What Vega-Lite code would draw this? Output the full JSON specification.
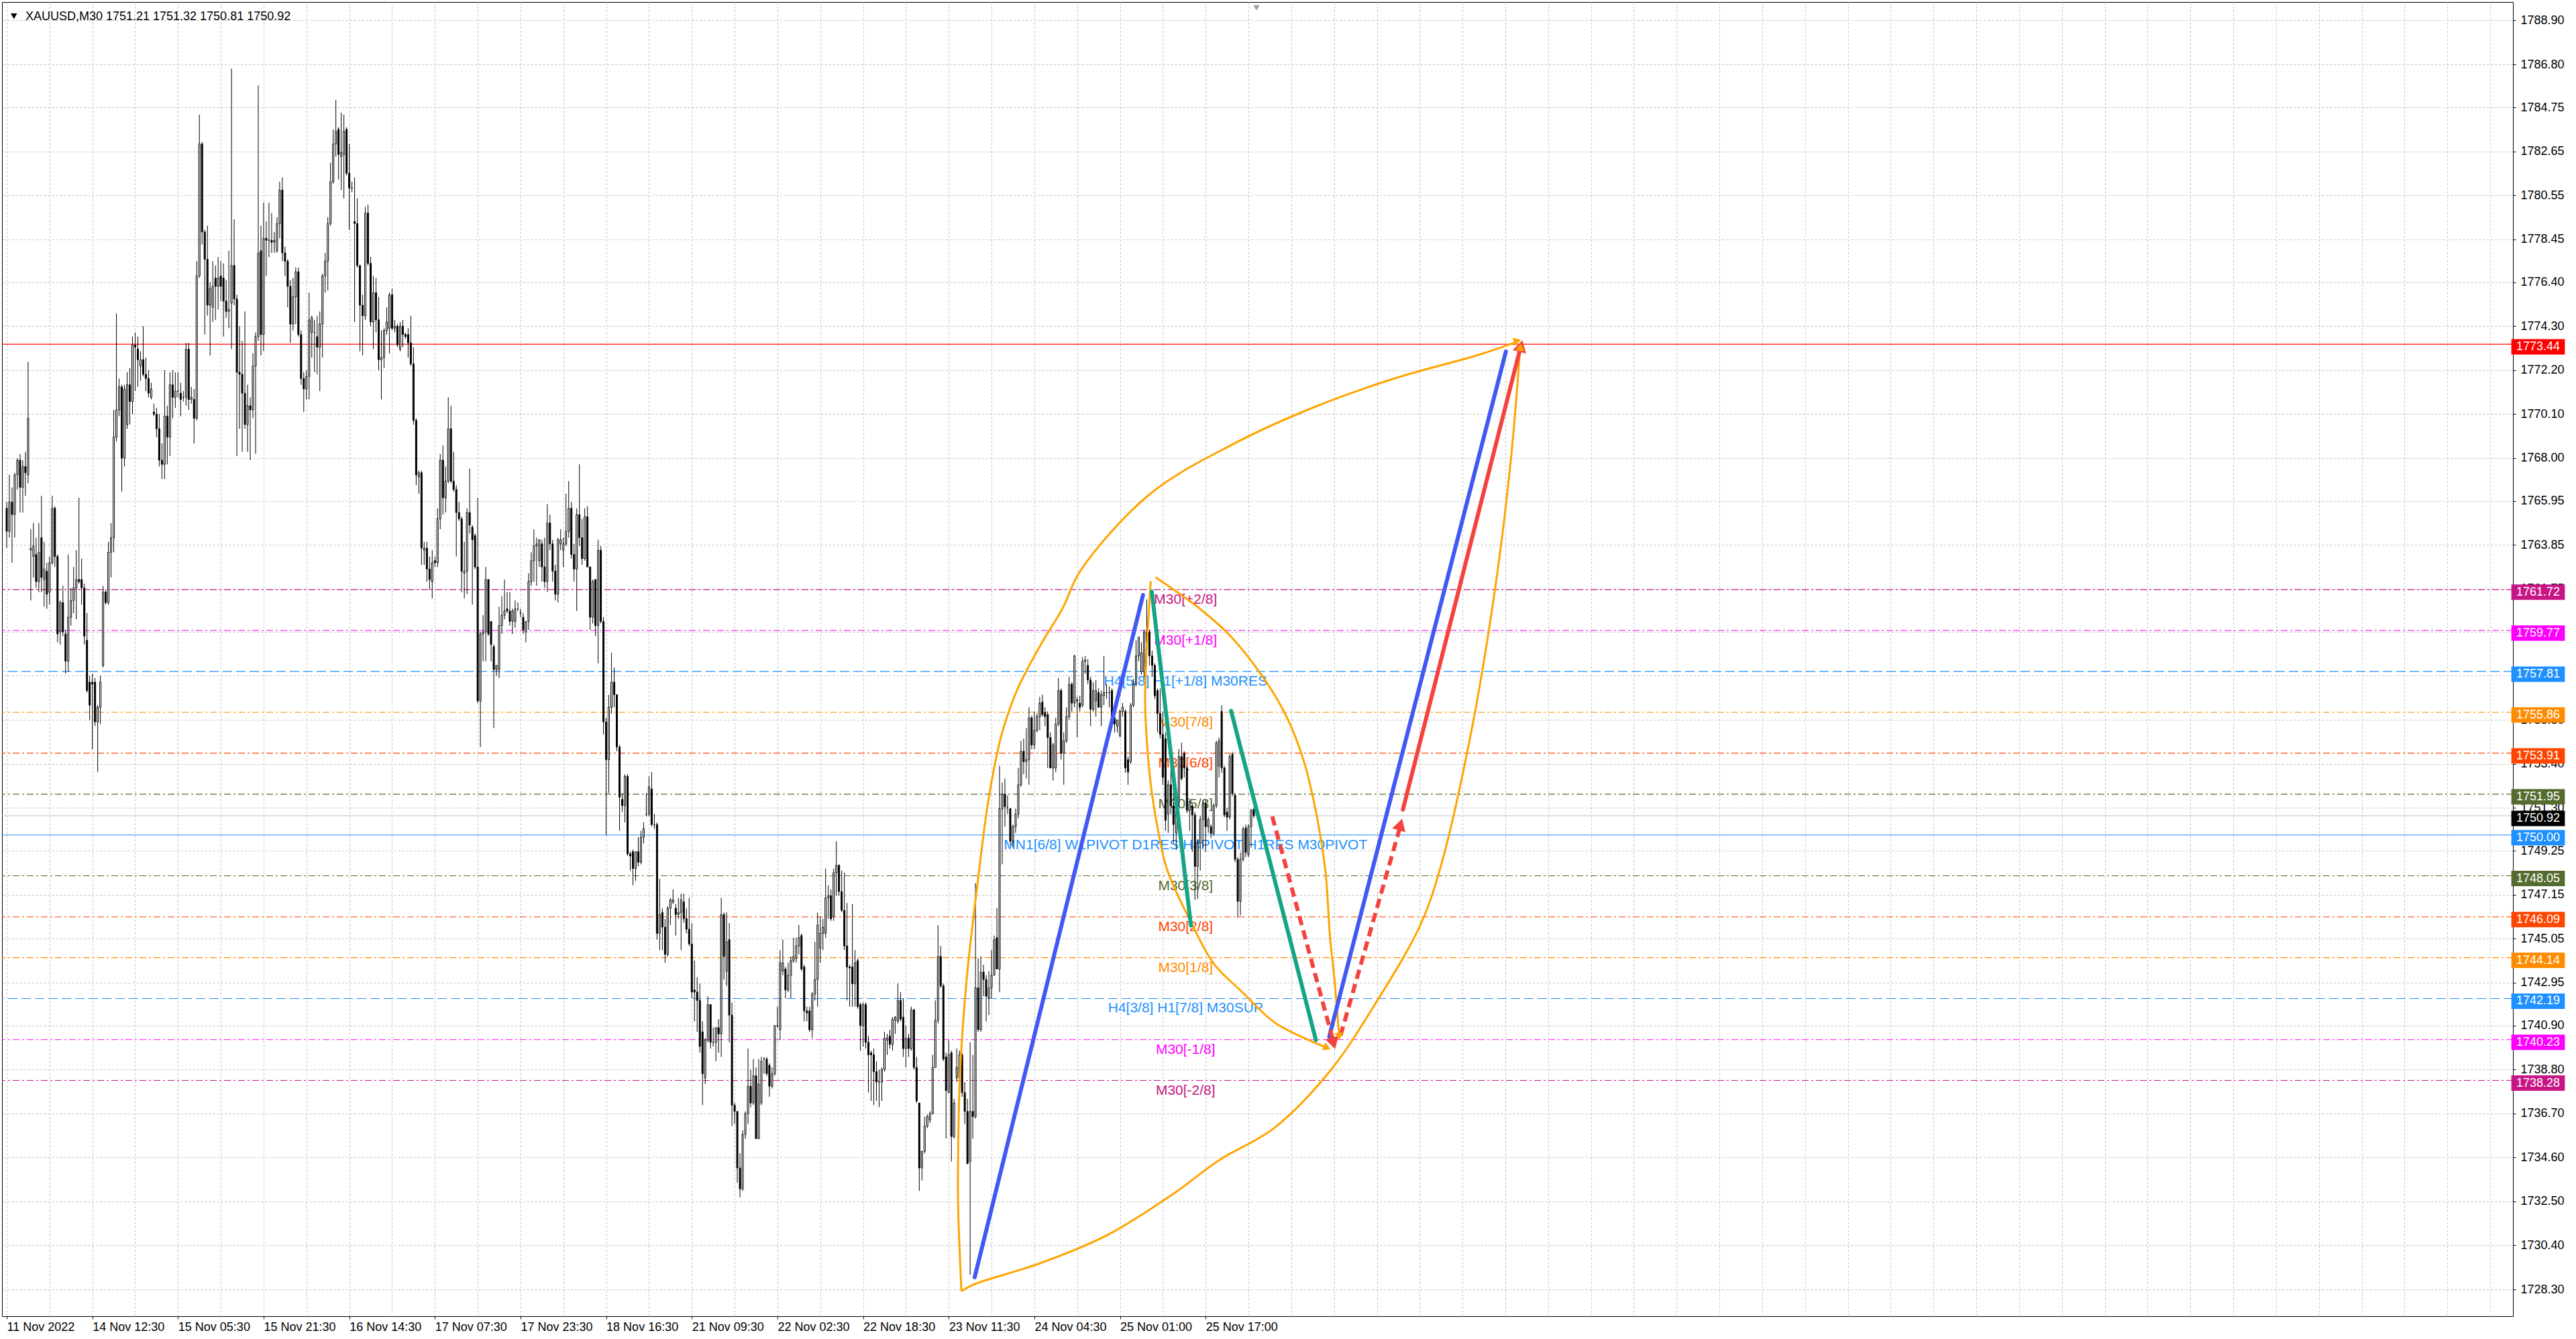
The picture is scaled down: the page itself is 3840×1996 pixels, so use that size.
{
"$schema":"https://vega.github.io/schema/vega-lite/v6.json",
"width":3743,"height":1959,
"autosize":{"type":"none"},
"padding":{"left":3,"top":3,"right":94,"bottom":34},
"background":"white",
"config":{"view":{"stroke":"#000000","strokeWidth":1}},
"datasets":{
"candles":[
{"i":1,"o":1765.6,"h":1765.9,"l":1763.7,"c":1764.5},{"i":2,"o":1764.5,"h":1767.2,"l":1764.2,"c":1765.9},{"i":3,"o":1765.9,"h":1766.6,"l":1763.0,"c":1765.3},{"i":4,"o":1765.3,"h":1767.3,"l":1764.2,"c":1767.2},{"i":5,"o":1767.2,"h":1768.0,"l":1766.5,"c":1767.9},{"i":6,"o":1767.9,"h":1768.2,"l":1765.4,"c":1766.6},{"i":7,"o":1766.6,"h":1767.9,"l":1765.4,"c":1767.6},{"i":8,"o":1767.6,"h":1768.3,"l":1766.2,"c":1767.3},{"i":9,"o":1767.2,"h":1772.6,"l":1766.8,"c":1769.9},{"i":10,"o":1763.6,"h":1764.6,"l":1761.2,"c":1763.7},
{"i":11,"o":1763.3,"h":1764.9,"l":1762.3,"c":1763.8},{"i":12,"o":1763.4,"h":1764.2,"l":1761.8,"c":1762.1},{"i":13,"o":1762.1,"h":1764.9,"l":1761.6,"c":1763.5},{"i":14,"o":1764.2,"h":1766.2,"l":1761.6,"c":1762.3},{"i":15,"o":1762.2,"h":1764.0,"l":1760.9,"c":1762.7},{"i":16,"o":1762.6,"h":1763.0,"l":1760.8,"c":1761.5},{"i":17,"o":1761.6,"h":1763.3,"l":1761.0,"c":1763.0},{"i":18,"o":1763.0,"h":1766.2,"l":1762.9,"c":1765.6},{"i":19,"o":1765.6,"h":1765.7,"l":1762.8,"c":1763.3},{"i":20,"o":1763.3,"h":1763.4,"l":1759.2,"c":1759.6},
{"i":21,"o":1759.7,"h":1761.2,"l":1759.1,"c":1761.1},{"i":22,"o":1761.1,"h":1761.9,"l":1759.5,"c":1759.7},{"i":23,"o":1759.6,"h":1759.8,"l":1757.7,"c":1758.3},{"i":24,"o":1758.3,"h":1763.4,"l":1757.8,"c":1760.4},{"i":25,"o":1760.4,"h":1761.8,"l":1760.0,"c":1761.2},{"i":26,"o":1761.2,"h":1762.8,"l":1760.6,"c":1761.8},{"i":27,"o":1761.8,"h":1763.6,"l":1760.3,"c":1762.2},{"i":28,"o":1762.2,"h":1766.1,"l":1762.0,"c":1762.1},{"i":29,"o":1762.2,"h":1763.2,"l":1761.0,"c":1761.8},{"i":30,"o":1761.8,"h":1762.0,"l":1759.1,"c":1759.5},
{"i":31,"o":1759.3,"h":1760.6,"l":1756.8,"c":1756.9},{"i":32,"o":1757.3,"h":1757.6,"l":1755.5,"c":1756.2},{"i":33,"o":1757.3,"h":1757.7,"l":1754.1,"c":1757.2},{"i":34,"o":1757.3,"h":1757.5,"l":1755.2,"c":1755.4},{"i":35,"o":1755.4,"h":1756.2,"l":1753.0,"c":1756.1},{"i":36,"o":1756.1,"h":1757.6,"l":1755.3,"c":1757.3},{"i":37,"o":1758.1,"h":1761.9,"l":1758.0,"c":1761.6},{"i":38,"o":1761.6,"h":1761.7,"l":1761.0,"c":1761.1},{"i":39,"o":1761.1,"h":1764.0,"l":1761.0,"c":1763.5},{"i":40,"o":1763.5,"h":1764.9,"l":1762.3,"c":1764.2},
{"i":41,"o":1764.2,"h":1770.3,"l":1763.5,"c":1769.0},{"i":42,"o":1769.0,"h":1774.9,"l":1768.8,"c":1770.3},{"i":43,"o":1770.3,"h":1771.8,"l":1770.0,"c":1771.4},{"i":44,"o":1771.4,"h":1771.5,"l":1766.4,"c":1768.0},{"i":45,"o":1768.0,"h":1771.5,"l":1767.6,"c":1771.3},{"i":46,"o":1769.6,"h":1772.1,"l":1769.4,"c":1771.5},{"i":47,"o":1771.5,"h":1772.3,"l":1769.6,"c":1770.7},{"i":48,"o":1770.7,"h":1773.8,"l":1770.1,"c":1773.4},{"i":49,"o":1773.4,"h":1774.0,"l":1771.2,"c":1773.3},{"i":50,"o":1773.2,"h":1773.8,"l":1771.4,"c":1772.7},
{"i":51,"o":1772.4,"h":1773.1,"l":1771.7,"c":1772.7},{"i":52,"o":1772.7,"h":1774.3,"l":1771.9,"c":1772.0},{"i":53,"o":1772.0,"h":1772.8,"l":1771.2,"c":1771.8},{"i":54,"o":1771.8,"h":1772.2,"l":1770.9,"c":1771.1},{"i":55,"o":1770.9,"h":1771.6,"l":1770.8,"c":1771.3},{"i":56,"o":1770.2,"h":1770.6,"l":1770.0,"c":1770.1},{"i":57,"o":1770.1,"h":1770.4,"l":1769.0,"c":1769.4},{"i":58,"o":1769.4,"h":1770.1,"l":1767.6,"c":1767.9},{"i":59,"o":1767.9,"h":1768.7,"l":1767.0,"c":1767.7},{"i":60,"o":1767.7,"h":1772.2,"l":1767.0,"c":1770.0},
{"i":61,"o":1770.0,"h":1770.5,"l":1767.7,"c":1769.0},{"i":62,"o":1769.0,"h":1772.1,"l":1768.1,"c":1771.5},{"i":63,"o":1771.5,"h":1772.2,"l":1769.9,"c":1770.9},{"i":64,"o":1770.9,"h":1772.1,"l":1770.4,"c":1771.2},{"i":65,"o":1771.2,"h":1772.1,"l":1770.9,"c":1771.2},{"i":66,"o":1771.1,"h":1771.6,"l":1770.0,"c":1770.8},{"i":67,"o":1770.9,"h":1771.2,"l":1770.7,"c":1770.9},{"i":68,"o":1770.9,"h":1773.5,"l":1770.5,"c":1773.2},{"i":69,"o":1773.2,"h":1773.5,"l":1770.3,"c":1770.8},{"i":70,"o":1770.8,"h":1771.4,"l":1770.6,"c":1770.9},
{"i":71,"o":1770.8,"h":1771.3,"l":1768.7,"c":1769.9},{"i":72,"o":1769.9,"h":1777.4,"l":1769.8,"c":1776.7},{"i":73,"o":1776.7,"h":1784.4,"l":1776.6,"c":1783.0},{"i":74,"o":1783.0,"h":1783.1,"l":1778.2,"c":1778.8},{"i":75,"o":1778.8,"h":1778.9,"l":1773.9,"c":1777.5},{"i":76,"o":1777.5,"h":1779.1,"l":1774.8,"c":1775.3},{"i":77,"o":1775.3,"h":1776.4,"l":1772.9,"c":1776.1},{"i":78,"o":1775.2,"h":1777.4,"l":1774.5,"c":1776.2},{"i":79,"o":1776.6,"h":1777.2,"l":1774.6,"c":1776.2},{"i":80,"o":1776.2,"h":1777.6,"l":1775.1,"c":1776.6},
{"i":81,"o":1776.7,"h":1777.4,"l":1775.5,"c":1776.2},{"i":82,"o":1776.6,"h":1777.3,"l":1773.8,"c":1775.5},{"i":83,"o":1775.5,"h":1776.5,"l":1774.7,"c":1775.0},{"i":84,"o":1775.0,"h":1777.9,"l":1774.2,"c":1775.1},{"i":85,"o":1775.4,"h":1786.6,"l":1773.2,"c":1777.2},{"i":86,"o":1777.2,"h":1779.4,"l":1775.3,"c":1775.6},{"i":87,"o":1775.6,"h":1775.8,"l":1768.1,"c":1772.1},{"i":88,"o":1772.1,"h":1774.3,"l":1769.4,"c":1772.0},{"i":89,"o":1772.0,"h":1773.6,"l":1768.3,"c":1771.1},{"i":90,"o":1771.1,"h":1775.0,"l":1769.4,"c":1769.6},
{"i":91,"o":1769.6,"h":1771.5,"l":1768.3,"c":1770.5},{"i":92,"o":1770.5,"h":1770.9,"l":1767.9,"c":1770.3},{"i":93,"o":1770.3,"h":1773.0,"l":1769.9,"c":1772.4},{"i":94,"o":1772.4,"h":1774.0,"l":1768.2,"c":1773.8},{"i":95,"o":1773.8,"h":1785.8,"l":1773.6,"c":1777.8},{"i":96,"o":1777.9,"h":1779.1,"l":1772.9,"c":1773.9},{"i":97,"o":1773.9,"h":1780.2,"l":1773.1,"c":1778.5},{"i":98,"o":1778.5,"h":1779.3,"l":1776.7,"c":1778.4},{"i":99,"o":1778.4,"h":1780.2,"l":1777.6,"c":1778.4},{"i":100,"o":1778.4,"h":1779.7,"l":1777.8,"c":1778.3},
{"i":101,"o":1778.3,"h":1778.8,"l":1777.8,"c":1778.4},{"i":102,"o":1777.9,"h":1779.5,"l":1777.8,"c":1779.2},{"i":103,"o":1779.2,"h":1781.2,"l":1778.5,"c":1780.8},{"i":104,"o":1780.8,"h":1781.4,"l":1777.4,"c":1777.8},{"i":105,"o":1777.8,"h":1778.1,"l":1776.7,"c":1777.4},{"i":106,"o":1777.4,"h":1777.5,"l":1775.2,"c":1776.2},{"i":107,"o":1776.2,"h":1776.5,"l":1773.5,"c":1774.4},{"i":108,"o":1774.4,"h":1776.6,"l":1774.1,"c":1775.7},{"i":109,"o":1775.7,"h":1777.1,"l":1774.4,"c":1776.9},{"i":110,"o":1776.9,"h":1777.1,"l":1773.8,"c":1773.9},
{"i":111,"o":1773.9,"h":1774.1,"l":1771.5,"c":1771.8},{"i":112,"o":1771.8,"h":1772.1,"l":1770.2,"c":1771.3},{"i":113,"o":1771.3,"h":1772.2,"l":1770.8,"c":1771.9},{"i":114,"o":1771.9,"h":1775.9,"l":1770.8,"c":1774.6},{"i":115,"o":1774.0,"h":1774.8,"l":1772.8,"c":1774.7},{"i":116,"o":1774.0,"h":1774.6,"l":1772.1,"c":1774.0},{"i":117,"o":1773.8,"h":1774.8,"l":1772.0,"c":1773.3},{"i":118,"o":1773.3,"h":1775.0,"l":1771.2,"c":1774.4},{"i":119,"o":1774.4,"h":1776.8,"l":1772.8,"c":1776.7},{"i":120,"o":1776.7,"h":1777.8,"l":1775.9,"c":1777.4},
{"i":121,"o":1777.4,"h":1779.5,"l":1776.0,"c":1779.2},{"i":122,"o":1779.2,"h":1782.1,"l":1779.1,"c":1781.2},{"i":123,"o":1781.2,"h":1783.7,"l":1781.1,"c":1783.0},{"i":124,"o":1783.0,"h":1785.1,"l":1782.4,"c":1783.6},{"i":125,"o":1783.7,"h":1783.8,"l":1781.3,"c":1782.5},{"i":126,"o":1782.4,"h":1784.5,"l":1780.8,"c":1782.6},{"i":127,"o":1782.5,"h":1784.4,"l":1780.4,"c":1783.6},{"i":128,"o":1783.7,"h":1783.8,"l":1781.5,"c":1781.6},{"i":129,"o":1781.6,"h":1783.0,"l":1778.9,"c":1780.9},{"i":130,"o":1780.9,"h":1781.2,"l":1780.7,"c":1780.9},
{"i":131,"o":1779.3,"h":1781.4,"l":1774.5,"c":1779.2},{"i":132,"o":1779.2,"h":1780.4,"l":1777.1,"c":1777.2},{"i":133,"o":1777.2,"h":1777.2,"l":1773.1,"c":1775.3},{"i":134,"o":1775.3,"h":1775.8,"l":1772.9,"c":1774.8},{"i":135,"o":1774.8,"h":1780.0,"l":1774.6,"c":1779.7},{"i":136,"o":1779.7,"h":1780.1,"l":1777.2,"c":1777.3},{"i":137,"o":1777.3,"h":1777.6,"l":1774.3,"c":1774.5},{"i":138,"o":1774.5,"h":1776.7,"l":1773.2,"c":1775.9},{"i":139,"o":1775.9,"h":1776.6,"l":1774.0,"c":1774.6},{"i":140,"o":1774.6,"h":1775.7,"l":1772.2,"c":1772.7},
{"i":141,"o":1772.7,"h":1774.1,"l":1770.8,"c":1772.8},{"i":142,"o":1772.8,"h":1774.2,"l":1772.3,"c":1774.1},{"i":143,"o":1774.1,"h":1775.2,"l":1773.9,"c":1774.5},{"i":144,"o":1774.2,"h":1775.9,"l":1773.0,"c":1775.8},{"i":145,"o":1775.8,"h":1776.1,"l":1774.1,"c":1774.2},{"i":146,"o":1774.2,"h":1774.6,"l":1774.0,"c":1774.3},{"i":147,"o":1774.3,"h":1774.4,"l":1773.3,"c":1773.4},{"i":148,"o":1773.2,"h":1774.5,"l":1773.1,"c":1774.3},{"i":149,"o":1774.3,"h":1774.6,"l":1773.3,"c":1773.9},{"i":150,"o":1773.9,"h":1774.0,"l":1773.7,"c":1773.8},
{"i":151,"o":1773.9,"h":1774.2,"l":1772.8,"c":1773.5},{"i":152,"o":1773.5,"h":1774.8,"l":1772.4,"c":1772.5},{"i":153,"o":1772.5,"h":1773.3,"l":1769.6,"c":1769.8},{"i":154,"o":1769.8,"h":1769.9,"l":1766.7,"c":1767.2},{"i":155,"o":1767.1,"h":1767.4,"l":1766.3,"c":1767.3},{"i":156,"o":1767.3,"h":1767.4,"l":1762.9,"c":1763.7},{"i":157,"o":1763.6,"h":1764.0,"l":1762.9,"c":1763.7},{"i":158,"o":1763.7,"h":1764.0,"l":1762.1,"c":1762.7},{"i":159,"o":1762.7,"h":1763.3,"l":1761.7,"c":1762.2},{"i":160,"o":1762.1,"h":1763.6,"l":1761.3,"c":1763.0},
{"i":161,"o":1763.1,"h":1763.3,"l":1762.8,"c":1763.0},{"i":162,"o":1763.0,"h":1765.6,"l":1762.8,"c":1765.1},{"i":163,"o":1765.1,"h":1768.2,"l":1764.6,"c":1767.9},{"i":164,"o":1767.9,"h":1768.6,"l":1765.3,"c":1766.1},{"i":165,"o":1766.1,"h":1767.6,"l":1765.4,"c":1766.9},{"i":166,"o":1766.9,"h":1770.9,"l":1766.8,"c":1769.4},{"i":167,"o":1769.4,"h":1770.5,"l":1766.8,"c":1766.9},{"i":168,"o":1766.9,"h":1768.3,"l":1766.4,"c":1766.5},{"i":169,"o":1766.5,"h":1766.7,"l":1763.3,"c":1765.4},{"i":170,"o":1765.4,"h":1765.9,"l":1765.0,"c":1765.1},
{"i":171,"o":1765.1,"h":1765.2,"l":1761.6,"c":1762.6},{"i":172,"o":1762.5,"h":1764.0,"l":1761.3,"c":1762.6},{"i":173,"o":1762.6,"h":1765.6,"l":1761.5,"c":1765.4},{"i":174,"o":1765.4,"h":1767.5,"l":1764.4,"c":1764.8},{"i":175,"o":1764.7,"h":1764.8,"l":1761.0,"c":1764.1},{"i":176,"o":1764.3,"h":1764.4,"l":1762.7,"c":1762.8},{"i":177,"o":1762.8,"h":1766.1,"l":1756.3,"c":1756.4},{"i":178,"o":1756.4,"h":1759.7,"l":1754.2,"c":1759.6},{"i":179,"o":1759.6,"h":1760.5,"l":1758.3,"c":1759.7},{"i":180,"o":1759.7,"h":1762.8,"l":1758.3,"c":1762.2},
{"i":181,"o":1762.2,"h":1762.2,"l":1759.5,"c":1759.6},{"i":182,"o":1760.2,"h":1760.2,"l":1758.3,"c":1759.1},{"i":183,"o":1759.0,"h":1759.1,"l":1755.1,"c":1757.9},{"i":184,"o":1757.9,"h":1758.1,"l":1757.6,"c":1758.1},{"i":185,"o":1757.9,"h":1760.9,"l":1757.5,"c":1760.0},{"i":186,"o":1760.0,"h":1761.4,"l":1759.6,"c":1760.5},{"i":187,"o":1760.5,"h":1762.2,"l":1760.3,"c":1760.7},{"i":188,"o":1760.8,"h":1761.6,"l":1760.6,"c":1760.7},{"i":189,"o":1760.7,"h":1761.6,"l":1760.0,"c":1760.2},{"i":190,"o":1760.2,"h":1760.8,"l":1759.6,"c":1760.7},
{"i":191,"o":1760.2,"h":1761.2,"l":1759.9,"c":1760.8},{"i":192,"o":1760.8,"h":1761.1,"l":1760.7,"c":1760.8},{"i":193,"o":1760.6,"h":1760.8,"l":1760.4,"c":1760.6},{"i":194,"o":1760.4,"h":1760.6,"l":1759.6,"c":1759.8},{"i":195,"o":1759.7,"h":1760.2,"l":1759.2,"c":1760.2},{"i":196,"o":1760.2,"h":1762.5,"l":1759.8,"c":1762.1},{"i":197,"o":1762.1,"h":1763.5,"l":1761.9,"c":1763.1},{"i":198,"o":1763.1,"h":1764.6,"l":1762.1,"c":1763.8},{"i":199,"o":1763.8,"h":1764.2,"l":1761.9,"c":1763.9},{"i":200,"o":1763.1,"h":1764.1,"l":1762.8,"c":1764.1},
{"i":201,"o":1763.9,"h":1764.1,"l":1762.1,"c":1762.8},{"i":202,"o":1762.8,"h":1764.2,"l":1761.8,"c":1762.1},{"i":203,"o":1762.1,"h":1765.8,"l":1761.6,"c":1764.9},{"i":204,"o":1764.9,"h":1765.3,"l":1763.6,"c":1763.9},{"i":205,"o":1763.9,"h":1764.1,"l":1762.1,"c":1762.6},{"i":206,"o":1762.6,"h":1762.9,"l":1761.2,"c":1761.5},{"i":207,"o":1761.5,"h":1764.2,"l":1761.1,"c":1764.1},{"i":208,"o":1763.9,"h":1764.6,"l":1763.6,"c":1764.1},{"i":209,"o":1763.6,"h":1764.2,"l":1762.8,"c":1763.9},{"i":210,"o":1763.9,"h":1766.3,"l":1763.8,"c":1764.5},
{"i":211,"o":1764.5,"h":1766.9,"l":1764.2,"c":1765.6},{"i":212,"o":1765.6,"h":1765.9,"l":1763.2,"c":1763.4},{"i":213,"o":1763.4,"h":1763.9,"l":1762.1,"c":1762.7},{"i":214,"o":1762.7,"h":1765.6,"l":1760.7,"c":1765.3},{"i":215,"o":1765.3,"h":1767.7,"l":1763.8,"c":1764.2},{"i":216,"o":1764.2,"h":1765.1,"l":1762.9,"c":1763.2},{"i":217,"o":1763.2,"h":1765.6,"l":1763.1,"c":1765.2},{"i":218,"o":1765.2,"h":1765.7,"l":1762.8,"c":1762.8},{"i":219,"o":1762.8,"h":1762.8,"l":1759.8,"c":1760.4},{"i":220,"o":1760.4,"h":1762.2,"l":1760.1,"c":1762.1},
{"i":221,"o":1762.2,"h":1762.2,"l":1759.5,"c":1760.0},{"i":222,"o":1760.0,"h":1764.1,"l":1758.2,"c":1763.6},{"i":223,"o":1763.6,"h":1763.8,"l":1760.1,"c":1760.2},{"i":224,"o":1760.2,"h":1760.4,"l":1754.8,"c":1755.4},{"i":225,"o":1755.4,"h":1755.6,"l":1750.0,"c":1753.6},{"i":226,"o":1753.6,"h":1756.7,"l":1752.0,"c":1756.1},{"i":227,"o":1756.1,"h":1758.7,"l":1755.8,"c":1757.3},{"i":228,"o":1757.3,"h":1758.0,"l":1756.1,"c":1756.7},{"i":229,"o":1756.7,"h":1756.7,"l":1754.0,"c":1754.2},{"i":230,"o":1754.2,"h":1754.3,"l":1750.2,"c":1751.8},
{"i":231,"o":1751.7,"h":1752.0,"l":1751.1,"c":1751.4},{"i":232,"o":1751.4,"h":1752.9,"l":1750.6,"c":1752.8},{"i":233,"o":1752.8,"h":1752.9,"l":1749.0,"c":1749.1},{"i":234,"o":1749.1,"h":1749.2,"l":1748.3,"c":1749.0},{"i":235,"o":1749.2,"h":1749.3,"l":1747.6,"c":1748.4},{"i":236,"o":1748.4,"h":1749.2,"l":1747.8,"c":1749.2},{"i":237,"o":1749.2,"h":1749.9,"l":1748.5,"c":1748.7},{"i":238,"o":1748.7,"h":1750.2,"l":1748.6,"c":1749.9},{"i":239,"o":1749.9,"h":1750.6,"l":1749.6,"c":1750.3},{"i":240,"o":1751.0,"h":1752.0,"l":1750.9,"c":1751.0},
{"i":241,"o":1751.0,"h":1752.8,"l":1750.9,"c":1752.3},{"i":242,"o":1752.2,"h":1753.0,"l":1750.4,"c":1750.5},{"i":243,"o":1750.5,"h":1751.0,"l":1750.3,"c":1750.5},{"i":244,"o":1750.5,"h":1750.6,"l":1745.0,"c":1745.3},{"i":245,"o":1745.3,"h":1747.9,"l":1744.5,"c":1746.2},{"i":246,"o":1746.3,"h":1746.5,"l":1744.5,"c":1745.6},{"i":247,"o":1745.6,"h":1746.0,"l":1743.9,"c":1744.3},{"i":248,"o":1744.3,"h":1746.6,"l":1744.2,"c":1746.5},{"i":249,"o":1746.5,"h":1747.0,"l":1745.7,"c":1746.9},{"i":250,"o":1746.8,"h":1747.4,"l":1746.7,"c":1746.9},
{"i":251,"o":1746.5,"h":1746.7,"l":1745.2,"c":1746.2},{"i":252,"o":1746.2,"h":1747.0,"l":1746.0,"c":1746.3},{"i":253,"o":1746.3,"h":1747.2,"l":1744.5,"c":1746.9},{"i":254,"o":1746.8,"h":1747.2,"l":1745.8,"c":1746.0},{"i":255,"o":1746.0,"h":1746.5,"l":1745.3,"c":1745.5},{"i":256,"o":1745.5,"h":1747.0,"l":1744.7,"c":1744.8},{"i":257,"o":1744.8,"h":1745.8,"l":1742.2,"c":1742.5},{"i":258,"o":1742.6,"h":1744.0,"l":1741.1,"c":1742.5},{"i":259,"o":1742.5,"h":1743.2,"l":1740.6,"c":1742.1},{"i":260,"o":1742.1,"h":1742.9,"l":1739.6,"c":1739.9},
{"i":261,"o":1740.6,"h":1741.1,"l":1737.1,"c":1738.6},{"i":262,"o":1738.4,"h":1740.3,"l":1738.1,"c":1740.2},{"i":263,"o":1740.2,"h":1742.3,"l":1740.1,"c":1741.9},{"i":264,"o":1741.9,"h":1741.9,"l":1739.8,"c":1740.1},{"i":265,"o":1740.1,"h":1740.8,"l":1739.9,"c":1740.1},{"i":266,"o":1740.1,"h":1740.8,"l":1739.2,"c":1740.8},{"i":267,"o":1740.8,"h":1741.2,"l":1739.6,"c":1740.5},{"i":268,"o":1740.5,"h":1747.0,"l":1739.4,"c":1746.2},{"i":269,"o":1746.2,"h":1746.3,"l":1743.1,"c":1744.2},{"i":270,"o":1743.5,"h":1746.3,"l":1742.8,"c":1744.9},
{"i":271,"o":1745.0,"h":1745.8,"l":1740.1,"c":1741.4},{"i":272,"o":1741.4,"h":1742.0,"l":1736.1,"c":1737.1},{"i":273,"o":1737.1,"h":1737.2,"l":1736.2,"c":1736.8},{"i":274,"o":1736.8,"h":1736.8,"l":1733.4,"c":1734.1},{"i":275,"o":1734.1,"h":1734.8,"l":1732.7,"c":1733.1},{"i":276,"o":1733.1,"h":1735.9,"l":1733.0,"c":1735.7},{"i":277,"o":1735.7,"h":1736.8,"l":1735.5,"c":1736.7},{"i":278,"o":1736.7,"h":1739.8,"l":1736.2,"c":1738.0},{"i":279,"o":1738.0,"h":1738.8,"l":1737.0,"c":1737.2},{"i":280,"o":1737.2,"h":1739.3,"l":1737.1,"c":1738.5},
{"i":281,"o":1738.5,"h":1738.9,"l":1735.5,"c":1735.5},{"i":282,"o":1735.5,"h":1739.3,"l":1735.5,"c":1738.1},{"i":283,"o":1737.2,"h":1739.4,"l":1737.1,"c":1739.2},{"i":284,"o":1739.3,"h":1739.4,"l":1738.6,"c":1739.3},{"i":285,"o":1739.3,"h":1739.4,"l":1738.5,"c":1738.6},{"i":286,"o":1739.0,"h":1739.1,"l":1737.5,"c":1738.0},{"i":287,"o":1738.0,"h":1738.9,"l":1737.9,"c":1738.6},{"i":288,"o":1738.6,"h":1740.9,"l":1738.5,"c":1740.9},{"i":289,"o":1740.9,"h":1741.8,"l":1740.8,"c":1740.9},{"i":290,"o":1740.7,"h":1744.5,"l":1740.2,"c":1743.9},
{"i":291,"o":1743.5,"h":1745.0,"l":1743.3,"c":1743.9},{"i":292,"o":1743.6,"h":1743.7,"l":1742.2,"c":1742.6},{"i":293,"o":1742.6,"h":1743.9,"l":1742.5,"c":1743.3},{"i":294,"o":1743.3,"h":1744.2,"l":1742.2,"c":1744.0},{"i":295,"o":1744.0,"h":1745.1,"l":1743.9,"c":1744.2},{"i":296,"o":1744.1,"h":1745.1,"l":1743.9,"c":1744.7},{"i":297,"o":1744.7,"h":1745.7,"l":1744.3,"c":1745.1},{"i":298,"o":1745.2,"h":1745.3,"l":1743.5,"c":1743.6},{"i":299,"o":1743.7,"h":1743.8,"l":1741.1,"c":1741.6},{"i":300,"o":1741.6,"h":1741.8,"l":1741.1,"c":1741.5},
{"i":301,"o":1741.6,"h":1741.8,"l":1740.6,"c":1740.7},{"i":302,"o":1740.7,"h":1742.5,"l":1740.3,"c":1742.4},{"i":303,"o":1742.4,"h":1744.9,"l":1742.1,"c":1743.1},{"i":304,"o":1743.1,"h":1746.3,"l":1741.8,"c":1745.7},{"i":305,"o":1744.6,"h":1746.1,"l":1743.9,"c":1745.3},{"i":306,"o":1745.3,"h":1746.0,"l":1744.5,"c":1745.6},{"i":307,"o":1745.3,"h":1748.4,"l":1745.1,"c":1747.0},{"i":308,"o":1747.0,"h":1747.6,"l":1746.0,"c":1747.1},{"i":309,"o":1747.1,"h":1747.4,"l":1745.9,"c":1746.0},{"i":310,"o":1746.1,"h":1748.4,"l":1745.9,"c":1748.2},
{"i":311,"o":1748.2,"h":1749.7,"l":1747.1,"c":1748.55},{"i":312,"o":1748.55,"h":1748.6,"l":1747.1,"c":1747.3},{"i":313,"o":1747.3,"h":1748.3,"l":1746.3,"c":1746.4},{"i":314,"o":1746.4,"h":1748.2,"l":1744.5,"c":1744.7},{"i":315,"o":1744.7,"h":1746.75,"l":1742.1,"c":1743.7},{"i":316,"o":1743.7,"h":1743.8,"l":1741.8,"c":1743.65},{"i":317,"o":1743.7,"h":1746.7,"l":1741.8,"c":1742.9},{"i":318,"o":1742.9,"h":1744.5,"l":1741.8,"c":1743.9},{"i":319,"o":1744.0,"h":1744.1,"l":1741.7,"c":1741.8},{"i":320,"o":1741.9,"h":1742.0,"l":1739.7,"c":1740.9},
{"i":321,"o":1740.9,"h":1742.0,"l":1739.9,"c":1741.9},{"i":322,"o":1741.9,"h":1742.0,"l":1739.8,"c":1740.1},{"i":323,"o":1740.1,"h":1740.4,"l":1737.7,"c":1739.5},{"i":324,"o":1739.6,"h":1739.7,"l":1737.3,"c":1739.5},{"i":325,"o":1739.5,"h":1739.8,"l":1737.1,"c":1738.7},{"i":326,"o":1738.7,"h":1739.2,"l":1737.3,"c":1738.2},{"i":327,"o":1738.2,"h":1738.8,"l":1737.0,"c":1738.2},{"i":328,"o":1738.2,"h":1738.9,"l":1737.3,"c":1738.8},{"i":329,"o":1738.8,"h":1740.6,"l":1738.7,"c":1740.3},{"i":330,"o":1740.2,"h":1740.5,"l":1739.5,"c":1740.3},
{"i":331,"o":1740.4,"h":1740.7,"l":1739.8,"c":1740.0},{"i":332,"o":1740.0,"h":1741.3,"l":1739.7,"c":1741.2},{"i":333,"o":1741.15,"h":1741.35,"l":1740.5,"c":1741.3},{"i":334,"o":1741.1,"h":1742.9,"l":1741.0,"c":1742.1},{"i":335,"o":1742.1,"h":1742.5,"l":1741.1,"c":1741.2},{"i":336,"o":1741.3,"h":1742.2,"l":1739.4,"c":1739.8},{"i":337,"o":1739.8,"h":1740.9,"l":1738.9,"c":1740.3},{"i":338,"o":1740.3,"h":1740.5,"l":1739.4,"c":1739.8},{"i":339,"o":1739.8,"h":1741.8,"l":1739.7,"c":1741.65},{"i":340,"o":1741.65,"h":1741.7,"l":1738.8,"c":1738.9},
{"i":341,"o":1738.9,"h":1739.4,"l":1737.2,"c":1737.3},{"i":342,"o":1737.2,"h":1737.2,"l":1733.0,"c":1734.1},{"i":343,"o":1734.1,"h":1734.9,"l":1733.5,"c":1734.9},{"i":344,"o":1734.9,"h":1736.55,"l":1734.8,"c":1736.1},{"i":345,"o":1736.1,"h":1736.65,"l":1736.0,"c":1736.55},{"i":346,"o":1736.4,"h":1736.8,"l":1736.25,"c":1736.7},{"i":347,"o":1736.7,"h":1739.5,"l":1736.65,"c":1738.9},{"i":348,"o":1738.9,"h":1742.1,"l":1738.9,"c":1741.15},{"i":349,"o":1741.15,"h":1745.7,"l":1741.0,"c":1744.2},{"i":350,"o":1744.2,"h":1744.7,"l":1742.7,"c":1742.8},
{"i":351,"o":1742.8,"h":1742.9,"l":1739.2,"c":1739.3},{"i":352,"o":1739.4,"h":1739.6,"l":1735.5,"c":1737.8},{"i":353,"o":1737.7,"h":1740.2,"l":1737.7,"c":1739.5},{"i":354,"o":1739.6,"h":1739.7,"l":1734.4,"c":1735.6},{"i":355,"o":1735.6,"h":1737.4,"l":1735.5,"c":1737.2},{"i":356,"o":1738.4,"h":1739.8,"l":1738.2,"c":1738.9},{"i":357,"o":1738.4,"h":1739.7,"l":1738.1,"c":1739.5},{"i":358,"o":1739.5,"h":1739.6,"l":1737.5,"c":1737.7},{"i":359,"o":1737.7,"h":1738.2,"l":1736.2,"c":1736.8},{"i":360,"o":1736.8,"h":1737.4,"l":1734.3,"c":1734.3},
{"i":361,"o":1734.4,"h":1740.1,"l":1729.0,"c":1736.8},{"i":362,"o":1736.8,"h":1739.5,"l":1735.5,"c":1736.55},{"i":363,"o":1736.55,"h":1747.7,"l":1736.45,"c":1742.7},{"i":364,"o":1742.7,"h":1744.1,"l":1740.6,"c":1740.7},{"i":365,"o":1740.7,"h":1744.2,"l":1740.6,"c":1743.45},{"i":366,"o":1743.45,"h":1743.8,"l":1742.3,"c":1743.1},{"i":367,"o":1743.1,"h":1743.3,"l":1741.1,"c":1742.3},{"i":368,"o":1742.2,"h":1743.5,"l":1741.4,"c":1742.7},{"i":369,"o":1742.7,"h":1744.5,"l":1742.2,"c":1743.3},{"i":370,"o":1743.3,"h":1745.2,"l":1743.3,"c":1745.0},
{"i":371,"o":1745.1,"h":1746.5,"l":1743.6,"c":1743.6},{"i":372,"o":1743.6,"h":1753.3,"l":1742.5,"c":1751.25},{"i":373,"o":1751.25,"h":1752.5,"l":1748.6,"c":1751.95},{"i":374,"o":1751.95,"h":1752.7,"l":1750.4,"c":1751.35},{"i":375,"o":1751.3,"h":1751.9,"l":1751.0,"c":1751.3},{"i":376,"o":1751.25,"h":1751.3,"l":1749.5,"c":1749.7},{"i":377,"o":1749.7,"h":1750.5,"l":1749.4,"c":1750.4},{"i":378,"o":1750.4,"h":1751.25,"l":1750.1,"c":1751.0},{"i":379,"o":1751.0,"h":1753.2,"l":1750.8,"c":1752.4},{"i":380,"o":1752.4,"h":1754.5,"l":1752.3,"c":1754.0},
{"i":381,"o":1754.0,"h":1754.6,"l":1752.9,"c":1753.5},{"i":382,"o":1753.5,"h":1755.1,"l":1752.7,"c":1753.6},{"i":383,"o":1753.6,"h":1756.1,"l":1752.4,"c":1755.6},{"i":384,"o":1755.6,"h":1755.7,"l":1754.1,"c":1754.3},{"i":385,"o":1754.3,"h":1755.9,"l":1754.1,"c":1755.0},{"i":386,"o":1755.0,"h":1755.8,"l":1754.9,"c":1755.65},{"i":387,"o":1755.65,"h":1756.6,"l":1755.0,"c":1756.3},{"i":388,"o":1756.35,"h":1756.7,"l":1755.65,"c":1755.75},{"i":389,"o":1755.85,"h":1756.1,"l":1755.2,"c":1755.65},{"i":390,"o":1755.75,"h":1755.9,"l":1753.2,"c":1754.65},
{"i":391,"o":1754.65,"h":1754.9,"l":1753.2,"c":1753.2},{"i":392,"o":1753.2,"h":1754.4,"l":1752.6,"c":1754.3},{"i":393,"o":1753.2,"h":1755.6,"l":1753.0,"c":1755.3},{"i":394,"o":1755.3,"h":1757.5,"l":1755.2,"c":1756.9},{"i":395,"o":1756.9,"h":1757.0,"l":1753.6,"c":1753.9},{"i":396,"o":1753.9,"h":1754.9,"l":1752.4,"c":1754.5},{"i":397,"o":1754.5,"h":1756.1,"l":1754.4,"c":1755.65},{"i":398,"o":1755.65,"h":1757.55,"l":1755.5,"c":1757.2},{"i":399,"o":1757.2,"h":1757.3,"l":1755.9,"c":1756.3},{"i":400,"o":1756.3,"h":1758.6,"l":1756.1,"c":1758.55},
{"i":401,"o":1756.45,"h":1756.6,"l":1754.65,"c":1756.4},{"i":402,"o":1756.3,"h":1756.65,"l":1755.9,"c":1756.1},{"i":403,"o":1756.2,"h":1758.5,"l":1756.1,"c":1758.3},{"i":404,"o":1758.3,"h":1758.55,"l":1757.7,"c":1758.35},{"i":405,"o":1758.1,"h":1758.4,"l":1757.2,"c":1757.4},{"i":406,"o":1757.4,"h":1757.55,"l":1755.2,"c":1756.0},{"i":407,"o":1756.0,"h":1757.3,"l":1755.9,"c":1756.9},{"i":408,"o":1756.4,"h":1757.4,"l":1755.65,"c":1756.9},{"i":409,"o":1756.8,"h":1757.0,"l":1756.1,"c":1756.1},{"i":410,"o":1756.1,"h":1756.9,"l":1755.2,"c":1756.7},
{"i":411,"o":1756.65,"h":1758.55,"l":1756.2,"c":1756.8},{"i":412,"o":1756.8,"h":1757.2,"l":1756.5,"c":1756.8},{"i":413,"o":1756.8,"h":1757.1,"l":1756.1,"c":1756.8},{"i":414,"o":1756.9,"h":1757.0,"l":1755.3,"c":1755.4},{"i":415,"o":1755.6,"h":1755.65,"l":1754.9,"c":1755.3},{"i":416,"o":1755.2,"h":1755.5,"l":1754.9,"c":1755.5},{"i":417,"o":1754.75,"h":1756.0,"l":1754.65,"c":1755.9},{"i":418,"o":1755.9,"h":1756.3,"l":1755.65,"c":1756.1},{"i":419,"o":1755.9,"h":1756.0,"l":1752.97,"c":1753.2},{"i":420,"o":1753.6,"h":1753.75,"l":1752.4,"c":1753.0},
{"i":421,"o":1753.5,"h":1756.3,"l":1753.4,"c":1756.2},{"i":422,"o":1756.2,"h":1757.45,"l":1756.1,"c":1757.2},{"i":423,"o":1757.2,"h":1759.3,"l":1757.1,"c":1758.55},{"i":424,"o":1758.55,"h":1759.45,"l":1758.3,"c":1759.45},{"i":425,"o":1757.8,"h":1759.2,"l":1757.65,"c":1758.7},{"i":426,"o":1757.8,"h":1759.8,"l":1757.55,"c":1759.7},{"i":427,"o":1759.2,"h":1761.25,"l":1758.5,"c":1759.7},{"i":428,"o":1759.7,"h":1759.8,"l":1758.1,"c":1758.55},{"i":429,"o":1758.55,"h":1758.8,"l":1757.55,"c":1758.1},{"i":430,"o":1758.1,"h":1758.2,"l":1756.5,"c":1756.65},
{"i":431,"o":1756.9,"h":1757.0,"l":1754.9,"c":1755.8},{"i":432,"o":1755.8,"h":1757.0,"l":1754.6,"c":1754.8},{"i":433,"o":1754.8,"h":1755.9,"l":1752.4,"c":1752.75},{"i":434,"o":1754.6,"h":1754.9,"l":1750.2,"c":1750.7},{"i":435,"o":1751.0,"h":1752.6,"l":1750.1,"c":1752.4},{"i":436,"o":1752.4,"h":1753.9,"l":1751.0,"c":1751.4},{"i":437,"o":1751.4,"h":1752.4,"l":1749.6,"c":1750.5},{"i":438,"o":1750.1,"h":1751.9,"l":1749.3,"c":1751.6},{"i":439,"o":1751.6,"h":1754.1,"l":1751.4,"c":1753.75},{"i":440,"o":1753.75,"h":1754.4,"l":1752.6,"c":1752.7},
{"i":441,"o":1753.9,"h":1754.0,"l":1752.75,"c":1753.2},{"i":442,"o":1753.2,"h":1753.3,"l":1751.05,"c":1751.2},{"i":443,"o":1751.2,"h":1751.7,"l":1750.2,"c":1751.6},{"i":444,"o":1751.4,"h":1751.5,"l":1749.2,"c":1750.96},{"i":445,"o":1750.96,"h":1751.1,"l":1746.9,"c":1748.5},{"i":446,"o":1748.5,"h":1749.8,"l":1746.95,"c":1749.6},{"i":447,"o":1749.6,"h":1750.9,"l":1748.3,"c":1750.74},{"i":448,"o":1750.74,"h":1751.6,"l":1749.4,"c":1751.5},{"i":449,"o":1751.5,"h":1751.7,"l":1749.2,"c":1750.4},{"i":450,"o":1750.4,"h":1750.85,"l":1750.1,"c":1750.74},
{"i":451,"o":1750.4,"h":1750.5,"l":1749.85,"c":1750.07},{"i":452,"o":1750.07,"h":1751.5,"l":1749.96,"c":1751.4},{"i":453,"o":1751.4,"h":1754.5,"l":1751.3,"c":1754.4},{"i":454,"o":1753.3,"h":1754.65,"l":1752.75,"c":1754.5},{"i":455,"o":1755.9,"h":1756.2,"l":1752.97,"c":1753.2},{"i":456,"o":1753.2,"h":1753.3,"l":1750.85,"c":1750.96},{"i":457,"o":1751.1,"h":1751.3,"l":1750.2,"c":1750.85},{"i":458,"o":1750.85,"h":1753.86,"l":1750.74,"c":1753.75},{"i":459,"o":1753.86,"h":1753.97,"l":1751.85,"c":1751.97},{"i":460,"o":1751.9,"h":1752.0,"l":1748.7,"c":1748.84},
{"i":461,"o":1748.84,"h":1748.95,"l":1746.05,"c":1746.83},{"i":462,"o":1746.83,"h":1749.17,"l":1746.16,"c":1748.84},{"i":463,"o":1748.84,"h":1750.4,"l":1748.73,"c":1750.29},{"i":464,"o":1750.34,"h":1750.5,"l":1748.95,"c":1749.17},{"i":465,"o":1749.06,"h":1750.51,"l":1748.95,"c":1750.4},{"i":466,"o":1750.4,"h":1751.23,"l":1749.4,"c":1751.2},{"i":467,"o":1751.21,"h":1751.32,"l":1750.81,"c":1750.92}
],
"levels":[
{"price":1773.44,"label":"","kind":"target"},
{"price":1761.72,"label":"M30[+2/8]","kind":"+2/8"},
{"price":1759.77,"label":"M30[+1/8]","kind":"+1/8"},
{"price":1757.81,"label":"H4[5/8] H1[+1/8] M30RES","kind":"res"},
{"price":1755.86,"label":"M30[7/8]","kind":"7/8"},
{"price":1753.91,"label":"M30[6/8]","kind":"6/8"},
{"price":1751.95,"label":"M30[5/8]","kind":"5/8"},
{"price":1750.92,"label":"","kind":"bid"},
{"price":1750.00,"label":"MN1[6/8] W1PIVOT D1RES H4PIVOT H1RES M30PIVOT","kind":"pivot"},
{"price":1748.05,"label":"M30[3/8]","kind":"3/8"},
{"price":1746.09,"label":"M30[2/8]","kind":"2/8"},
{"price":1744.14,"label":"M30[1/8]","kind":"1/8"},
{"price":1742.19,"label":"H4[3/8] H1[7/8] M30SUP","kind":"sup"},
{"price":1740.23,"label":"M30[-1/8]","kind":"-1/8"},
{"price":1738.28,"label":"M30[-2/8]","kind":"-2/8"}
],
"waves":[
{"w":"up1","n":0,"i":362.7,"p":1728.88},{"w":"up1","n":1,"i":425.6,"p":1761.46},
{"w":"dn1","n":0,"i":428.9,"p":1761.62},{"w":"dn1","n":1,"i":443.5,"p":1745.68},
{"w":"dn2","n":0,"i":458.5,"p":1755.93},{"w":"dn2","n":1,"i":490.2,"p":1740.21},
{"w":"up2","n":0,"i":495.2,"p":1740.37},{"w":"up2","n":1,"i":561.2,"p":1773.09},
{"w":"proj","n":0,"i":522.7,"p":1751.21},{"w":"proj","n":1,"i":566.5,"p":1773.2}
],
"dashed":[
{"w":"fall","n":0,"i":473.9,"p":1750.89},{"w":"fall","n":1,"i":496.6,"p":1740.2},
{"w":"rise","n":0,"i":499.4,"p":1740.42},{"w":"rise","n":1,"i":521.7,"p":1750.4}
],
"arcs":[
{"a":"L1top","n":0,"i":357.75,"p":1728.21},{"a":"L1top","n":1,"i":356.5,"p":1732.35},{"a":"L1top","n":2,"i":356.5,"p":1734.61},{"a":"L1top","n":3,"i":357.25,"p":1738.68},{"a":"L1top","n":4,"i":359.75,"p":1743.16},{"a":"L1top","n":5,"i":363.9,"p":1747.82},{"a":"L1top","n":6,"i":368.1,"p":1751.88},{"a":"L1top","n":7,"i":373.1,"p":1754.95},{"a":"L1top","n":8,"i":379,"p":1757.05},{"a":"L1top","n":9,"i":387.25,"p":1759.06},{"a":"L1top","n":10,"i":395.6,"p":1760.84},{"a":"L1top","n":11,"i":402.25,"p":1762.63},{"a":"L1top","n":12,"i":428.25,"p":1766.29},{"a":"L1top","n":13,"i":459,"p":1768.65},{"a":"L1top","n":14,"i":489.5,"p":1770.43},{"a":"L1top","n":15,"i":520.25,"p":1771.83},{"a":"L1top","n":16,"i":550.75,"p":1772.92},{"a":"L1top","n":17,"i":565.3,"p":1773.55},
{"a":"L1bot","n":0,"i":357.75,"p":1728.21},{"a":"L1bot","n":1,"i":362.25,"p":1728.53},{"a":"L1bot","n":2,"i":387.25,"p":1729.55},{"a":"L1bot","n":3,"i":412.25,"p":1730.89},{"a":"L1bot","n":4,"i":437.25,"p":1732.89},{"a":"L1bot","n":5,"i":453.9,"p":1734.46},{"a":"L1bot","n":6,"i":474.75,"p":1736.02},{"a":"L1bot","n":7,"i":495.5,"p":1738.73},{"a":"L1bot","n":8,"i":512.25,"p":1741.91},{"a":"L1bot","n":9,"i":529,"p":1745.64},{"a":"L1bot","n":10,"i":536.4,"p":1748.29},{"a":"L1bot","n":11,"i":547.75,"p":1754.6},{"a":"L1bot","n":12,"i":557,"p":1761.61},{"a":"L1bot","n":13,"i":563,"p":1767.85},{"a":"L1bot","n":14,"i":566.5,"p":1773.2},
{"a":"L2left","n":0,"i":428.5,"p":1762.12},{"a":"L2left","n":1,"i":427.7,"p":1760.49},{"a":"L2left","n":2,"i":426.8,"p":1758.39},{"a":"L2left","n":3,"i":426.4,"p":1756.25},{"a":"L2left","n":4,"i":427.25,"p":1754.12},{"a":"L2left","n":5,"i":428.9,"p":1752.01},{"a":"L2left","n":6,"i":431.75,"p":1749.88},{"a":"L2left","n":7,"i":434.75,"p":1748.29},{"a":"L2left","n":8,"i":443.9,"p":1745.74},{"a":"L2left","n":9,"i":452.25,"p":1743.82},{"a":"L2left","n":10,"i":462.25,"p":1742.55},{"a":"L2left","n":11,"i":474.75,"p":1741.05},{"a":"L2left","n":12,"i":487.25,"p":1740.22},{"a":"L2left","n":13,"i":494.4,"p":1739.84},
{"a":"L2right","n":0,"i":430.25,"p":1762.31},{"a":"L2right","n":1,"i":445.5,"p":1760.94},{"a":"L2right","n":2,"i":458,"p":1759.54},{"a":"L2right","n":3,"i":470.5,"p":1757.53},{"a":"L2right","n":4,"i":479,"p":1755.71},{"a":"L2right","n":5,"i":485.5,"p":1753.61},{"a":"L2right","n":6,"i":490.5,"p":1750.93},{"a":"L2right","n":7,"i":493.75,"p":1748.29},{"a":"L2right","n":8,"i":495.5,"p":1745.1},{"a":"L2right","n":9,"i":497.25,"p":1742.96},{"a":"L2right","n":10,"i":498.9,"p":1740.4}
],
"heads":[
{"k":"red","i":566.8,"p":1773.35,"dir":14},
{"k":"red","i":521.8,"p":1750.5,"dir":16},
{"k":"red","i":496.8,"p":1740.05,"dir":165},
{"k":"orange","i":494.4,"p":1739.84,"dir":113},
{"k":"orange","i":498.9,"p":1740.38,"dir":175},
{"k":"orange","i":565.5,"p":1773.6,"dir":73},
{"k":"orange","i":566.6,"p":1773.3,"dir":6}
]
},
"layer":[
{
"data":{"name":"levels"},
"mark":{"type":"rule","clip":true},
"encoding":{
"y":{"field":"price","type":"quantitative","title":null,"scale":{"domain":[1727.18,1789.62],"nice":false,"zero":false},
"axis":{"orient":"right","values":[1728.3,1730.4,1732.5,1734.6,1736.7,1738.8,1740.9,1742.95,1745.05,1747.15,1749.25,1751.3,1753.4,1755.5,1757.6,1759.7,1761.75,1763.85,1765.95,1768.0,1770.1,1772.2,1774.3,1776.4,1778.45,1780.55,1782.65,1784.75,1786.8,1788.9],"format":".2f","labelFont":"Liberation Sans","labelFontSize":18,"labelColor":"#000000","labelPadding":7,"labelOverlap":false,"labelFlush":false,"labelBound":false,"labelAlign":"left","labelBaseline":"middle","tickSize":4,"tickColor":"#000000","grid":true,"gridColor":"#C0C0C0","gridDash":[3,3],"gridWidth":1,"domain":false,"title":null}},
"color":{"field":"kind","type":"nominal","legend":null,"scale":{"domain":["target","+2/8","+1/8","res","7/8","6/8","5/8","bid","pivot","3/8","2/8","1/8","sup","-1/8","-2/8"],"range":["#FF0000","#C71585","#FF00FF","#1E90FF","#FF8C00","#FF4500","#556B2F","#C0C0C0","#1E90FF","#556B2F","#FF4500","#FF8C00","#1E90FF","#FF00FF","#C71585"]}},
"strokeDash":{"field":"kind","type":"nominal","legend":null,"scale":{"domain":["target","+2/8","+1/8","res","7/8","6/8","5/8","bid","pivot","3/8","2/8","1/8","sup","-1/8","-2/8"],"range":[[1,0],[10,4,3,4],[10,4,3,4],[14,6],[10,4,3,4],[10,4,3,4],[10,4,3,4],[1,0],[1,0],[10,4,3,4],[10,4,3,4],[10,4,3,4],[14,6],[10,4,3,4],[10,4,3,4]]}},
"strokeWidth":{"field":"kind","type":"nominal","legend":null,"scale":{"domain":["target","+2/8","+1/8","res","7/8","6/8","5/8","bid","pivot","3/8","2/8","1/8","sup","-1/8","-2/8"],"range":[1.2,1,1,1,1,1,1,1,2.2,1,1,1,1,1,1]}}
}
},
{
"data":{"name":"levels"},
"transform":[{"filter":"datum.label != ''"}],
"mark":{"type":"text","align":"center","baseline":"top","dy":4,"font":"Liberation Sans","fontSize":21},
"encoding":{
"x":{"datum":441.5,"type":"quantitative"},
"y":{"field":"price","type":"quantitative","title":null},
"text":{"field":"label"},
"color":{"field":"kind","type":"nominal","legend":null,"scale":{"domain":["+2/8","+1/8","res","7/8","6/8","5/8","pivot","3/8","2/8","1/8","sup","-1/8","-2/8"],"range":["#C71585","#FF00FF","#1E90FF","#FF8C00","#FF4500","#556B2F","#1E90FF","#556B2F","#FF4500","#FF8C00","#1E90FF","#FF00FF","#C71585"]}}
}
},
{
"data":{"name":"candles"},
"mark":{"type":"rule","color":"#000000","strokeWidth":1,"clip":true},
"encoding":{
"x":{"field":"i","type":"quantitative","title":null,"scale":{"domain":[0.5,936.25],"nice":false,"zero":false},
"axis":{"orient":"bottom","values":[1,17,33,49,65,81,97,113,129,145,161,177,193,209,225,241,257,273,289,305,321,337,353,369,385,401,417,433,449,465,481,497,513,529,545,561,577,593,609,625,641,657,673,689,705,721,737,753,769,785,801,817,833,849,865,881,897,913,929],
"labelExpr":"(datum.value - 1) % 32 == 0 && datum.value <= 449 ? ['11 Nov 2022','14 Nov 12:30','15 Nov 05:30','15 Nov 21:30','16 Nov 14:30','17 Nov 07:30','17 Nov 23:30','18 Nov 16:30','21 Nov 09:30','22 Nov 02:30','22 Nov 18:30','23 Nov 11:30','24 Nov 04:30','25 Nov 01:00','25 Nov 17:00'][(datum.value - 1) / 32] : ''",
"labelAlign":"left","labelBaseline":"top","labelFont":"Liberation Sans","labelFontSize":18,"labelColor":"#000000","labelPadding":3,"labelOverlap":false,"labelFlush":false,"labelBound":false,
"tickSize":4,"tickColor":"#000000","tickOpacity":{"condition":{"test":"(datum.value - 1) % 32 == 0 && datum.value <= 449","value":1},"value":0},
"grid":true,"gridColor":"#C0C0C0","gridDash":[3,3],"gridWidth":1,"domain":false,"title":null}},
"y":{"field":"l","type":"quantitative","title":null},
"y2":{"field":"h"}
}
},
{
"data":{"name":"candles"},
"mark":{"type":"bar","size":2,"stroke":"#000000","strokeWidth":1,"clip":true},
"encoding":{
"x":{"field":"i","type":"quantitative","title":null},
"y":{"field":"o","type":"quantitative","title":null},
"y2":{"field":"c"},
"fill":{"condition":{"test":"datum.c >= datum.o","value":"#FFFFFF"},"value":"#000000"}
}
},
{
"data":{"name":"arcs"},
"mark":{"type":"line","strokeWidth":3,"interpolate":"catmull-rom","color":"#FFA500","clip":true},
"encoding":{
"x":{"field":"i","type":"quantitative","title":null},
"y":{"field":"p","type":"quantitative","title":null},
"detail":{"field":"a"},
"order":{"field":"n","type":"quantitative"}
}
},
{
"data":{"name":"waves"},
"mark":{"type":"line","strokeWidth":6,"strokeCap":"round","clip":true},
"encoding":{
"x":{"field":"i","type":"quantitative","title":null},
"y":{"field":"p","type":"quantitative","title":null},
"detail":{"field":"w"},
"order":{"field":"n","type":"quantitative"},
"color":{"field":"w","type":"nominal","legend":null,"scale":{"domain":["up1","dn1","dn2","up2","proj"],"range":["#4159F2","#14A586","#14A586","#4159F2","#F4433F"]}}
}
},
{
"data":{"name":"dashed"},
"mark":{"type":"line","strokeWidth":6,"strokeDash":[14,8],"color":"#F4433F","clip":true},
"encoding":{
"x":{"field":"i","type":"quantitative","title":null},
"y":{"field":"p","type":"quantitative","title":null},
"detail":{"field":"w"},
"order":{"field":"n","type":"quantitative"}
}
},
{
"data":{"name":"heads"},
"mark":{"type":"point","shape":"triangle-up","filled":true,"opacity":1,"clip":true},
"encoding":{
"x":{"field":"i","type":"quantitative","title":null},
"y":{"field":"p","type":"quantitative","title":null},
"angle":{"field":"dir","type":"quantitative","scale":null},
"color":{"field":"k","type":"nominal","legend":null,"scale":{"domain":["red","orange"],"range":["#F4433F","#FFA500"]}},
"size":{"field":"k","type":"nominal","legend":null,"scale":{"domain":["red","orange"],"range":[420,160]}}
}
},
{
"data":{"name":"levels"},
"mark":{"type":"bar","size":23,"clip":false,"yOffset":4},
"encoding":{
"x":{"datum":936.9,"type":"quantitative"},
"x2":{"datum":956.9},
"y":{"field":"price","type":"quantitative","title":null},
"color":{"field":"kind","type":"nominal","legend":null,"scale":{"domain":["target","+2/8","+1/8","res","7/8","6/8","5/8","bid","pivot","3/8","2/8","1/8","sup","-1/8","-2/8"],"range":["#FF0000","#C71585","#FF00FF","#1E90FF","#FF8C00","#FF4500","#556B2F","#000000","#1E90FF","#556B2F","#FF4500","#FF8C00","#1E90FF","#FF00FF","#C71585"]}}
}
},
{
"data":{"name":"levels"},
"mark":{"type":"text","align":"center","baseline":"middle","font":"Liberation Sans","fontSize":18,"color":"#FFFFFF","clip":false,"yOffset":4},
"encoding":{
"x":{"datum":946.9,"type":"quantitative"},
"y":{"field":"price","type":"quantitative","title":null},
"text":{"field":"price","type":"quantitative","format":".2f"}
}
},
{
"data":{"values":[{"t":"XAUUSD,M30  1751.21 1751.32 1750.81 1750.92"}]},
"mark":{"type":"text","align":"left","baseline":"middle","font":"Liberation Sans","fontSize":18,"color":"#000000"},
"encoding":{"x":{"datum":8,"type":"quantitative"},"y":{"datum":1789.08,"type":"quantitative"},"text":{"field":"t"}}
},
{
"data":{"values":[{"t":"marker"}]},
"mark":{"type":"point","shape":"triangle-down","filled":true,"color":"#000000","size":90,"opacity":1},
"encoding":{"x":{"datum":3.7,"type":"quantitative"},"y":{"datum":1789.1,"type":"quantitative"}}
},
{
"data":{"values":[{"t":"shift"}]},
"mark":{"type":"point","shape":"triangle-down","filled":true,"color":"#A0A0A0","size":90,"opacity":1},
"encoding":{"x":{"datum":468,"type":"quantitative"},"y":{"datum":1789.5,"type":"quantitative"}}
}
],
"resolve":{"scale":{"color":"independent","strokeDash":"independent","strokeWidth":"independent","size":"independent"}}
}
